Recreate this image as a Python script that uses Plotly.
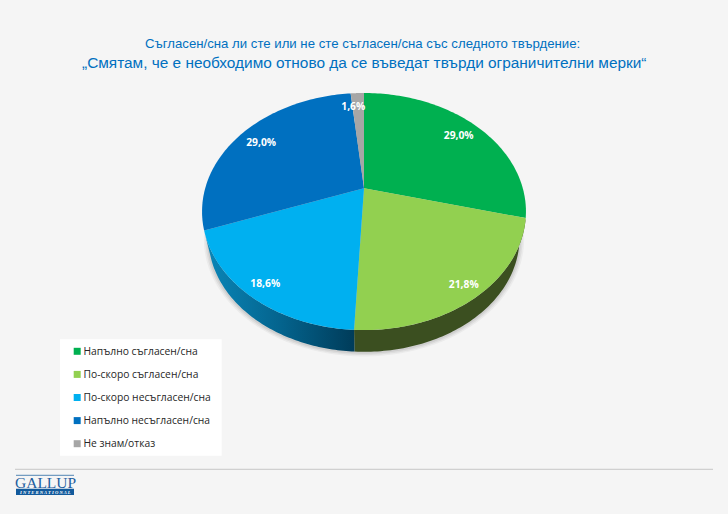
import numpy as np
import plotly.graph_objects as go

categories = ["Напълно съгласен/сна", "По-скоро съгласен/сна", "По-скоро несъгласен/сна",
              "Напълно несъгласен/сна", "Не знам/отказ"]
values = [29.0, 21.8, 18.6, 29.0, 1.6]
value_labels = ["29,0%", "21,8%", "18,6%", "29,0%", "1,6%"]
colors = ["#00b050", "#92d050", "#00b0f0", "#0070c0", "#a6a6a6"]
title_line_1 = "Съгласен/сна ли сте или не сте съгласен/сна със следното твърдение:"
title_line_2 = "„Смятам, че е необходимо отново да се въведат твърди ограничителни мерки“"

# Perspective projection of the disc onto the page
CX, CY, RX, RY, K = 364.0, 188.3, 158.8, 114.0, 0.196
LOW_CY, LOW_S = 215.7, 0.96
label_radius = [0.83, 0.90, 0.90, 0.83, 0.83]
label_nudge = [(0, 1), (1, 1), (0, 0), (0, 1), (-5, 0)]


def project(theta_deg, r=1.0, cy=CY, s=1.0):
    t = np.radians(theta_deg)
    u, v = r * np.sin(t), r * np.cos(t)
    w = 1 + K * v
    return CX + s * RX * u / w, cy - s * RY * v / w


edges = np.concatenate([[0.0], np.cumsum(values)]) * 3.6
fig = go.Figure()

# soft shadow under the pie
full = np.linspace(0, 360, 361)
for grow, alpha in [(1.03, 0.05), (1.02, 0.07), (1.01, 0.09)]:
    sx, sy = project(full, 1.0, LOW_CY + 0.5, LOW_S * grow)
    fig.add_trace(go.Scatter(x=sx, y=sy, fill="toself", mode="none",
                             fillcolor=f"rgba(60,60,60,{alpha})", hoverinfo="skip", showlegend=False))

# side wall: lime and cyan slices are the visible ones
arc = np.linspace(edges[1], edges[2], 80)
tx, ty = project(arc)
bx, by = project(arc[::-1], 1.0, LOW_CY, LOW_S)
fig.add_trace(go.Scatter(x=np.r_[tx, bx], y=np.r_[ty, by], fill="toself", mode="none",
                         fillcolor="#3b4f20", hoverinfo="skip", showlegend=False))
arc = np.linspace(edges[2], edges[3], 80)
tx, ty = project(arc)
bx, by = project(arc[::-1], 1.0, LOW_CY, LOW_S)
fig.add_trace(go.Scatter(x=np.r_[tx, bx], y=np.r_[ty, by], fill="toself", mode="none",
                         fillgradient=dict(type="horizontal", start=205, stop=354,
                                           colorscale=[[0, "#0a86b8"], [0.5, "#04648e"], [1, "#003c5a"]]),
                         hoverinfo="skip", showlegend=False))

# top face
for i, cat in enumerate(categories):
    arc = np.linspace(edges[i], edges[i + 1], 90)
    ax, ay = project(arc)
    fig.add_trace(go.Scatter(x=np.r_[CX, ax, CX], y=np.r_[CY, ay, CY], fill="toself", mode="none",
                             fillcolor=colors[i], name=cat, showlegend=False,
                             text=f"{cat}: {value_labels[i]}", hoverinfo="text"))

# value labels
for i, lab in enumerate(value_labels):
    mid = (edges[i] + edges[i + 1]) / 2
    lx, ly = project(mid, label_radius[i])
    fig.add_trace(go.Scatter(x=[lx + label_nudge[i][0]], y=[ly + label_nudge[i][1]], mode="text", text=[lab],
                             textposition="middle center",
                             textfont=dict(family="Open Sans", size=10.3, color="white", weight="bold"),
                             hoverinfo="skip", showlegend=False))

# legend
shapes = [dict(type="rect", x0=60, x1=221.7, y0=339.3, y1=455.7, fillcolor="white", line_width=0, layer="below"),
          dict(type="line", x0=15, x1=713, y0=469.3, y1=469.3, line=dict(color="#d0d0d0", width=1.3), layer="below"),
          dict(type="line", x0=16, x1=74, y0=475.3, y1=475.3, line=dict(color="#2a6aa5", width=0.8), layer="below"),
          dict(type="rect", x0=16, x1=74, y0=488.7, y1=495, fillcolor="#125a9c", line_width=0, layer="below")]
for i, cat in enumerate(categories):
    fig.add_trace(go.Scatter(x=[77.2], y=[351.3 + 23.1 * i], mode="markers", 
                             marker=dict(symbol="square", size=7, color=colors[i]),
                             hoverinfo="skip", showlegend=False))
    fig.add_trace(go.Scatter(x=[83.5], y=[352.3 + 23.1 * i], mode="text", text=[cat],
                             textposition="middle right",
                             textfont=dict(family="Open Sans", size=10.3, color="#262626"),
                             hoverinfo="skip", showlegend=False))

annotations = [
    dict(x=362.5, y=43, text=title_line_1, font=dict(family="Liberation Sans", size=13.2, color="#0070c0")),
    dict(x=364, y=62, text=title_line_2, font=dict(family="Liberation Sans", size=15.4, color="#0070c0")),
    dict(x=45, y=482, text="GALLUP", font=dict(family="Liberation Serif", size=15.5, color="#1f5f9f")),
    dict(x=45, y=492, text="<b><i>I N T E R N A T I O N A L</i></b>",
         font=dict(family="Liberation Serif", size=4.6, color="white")),
]
for a in annotations:
    a.update(xref="x", yref="y", showarrow=False, xanchor="center", yanchor="middle",
             borderpad=0, borderwidth=0)

fig.update_layout(
    width=728, height=514, margin=dict(l=0, r=0, t=0, b=0),
    paper_bgcolor="#f5f5f5", plot_bgcolor="#f5f5f5",
    xaxis=dict(range=[0, 728], visible=False, fixedrange=True),
    yaxis=dict(range=[514, 0], visible=False, fixedrange=True),
    shapes=shapes, annotations=annotations, showlegend=False,
)
fig.write_html("out.html", config={"displayModeBar": False},
               post_script="document.body.style.margin='0';document.body.style.background='#f5f5f5';")
